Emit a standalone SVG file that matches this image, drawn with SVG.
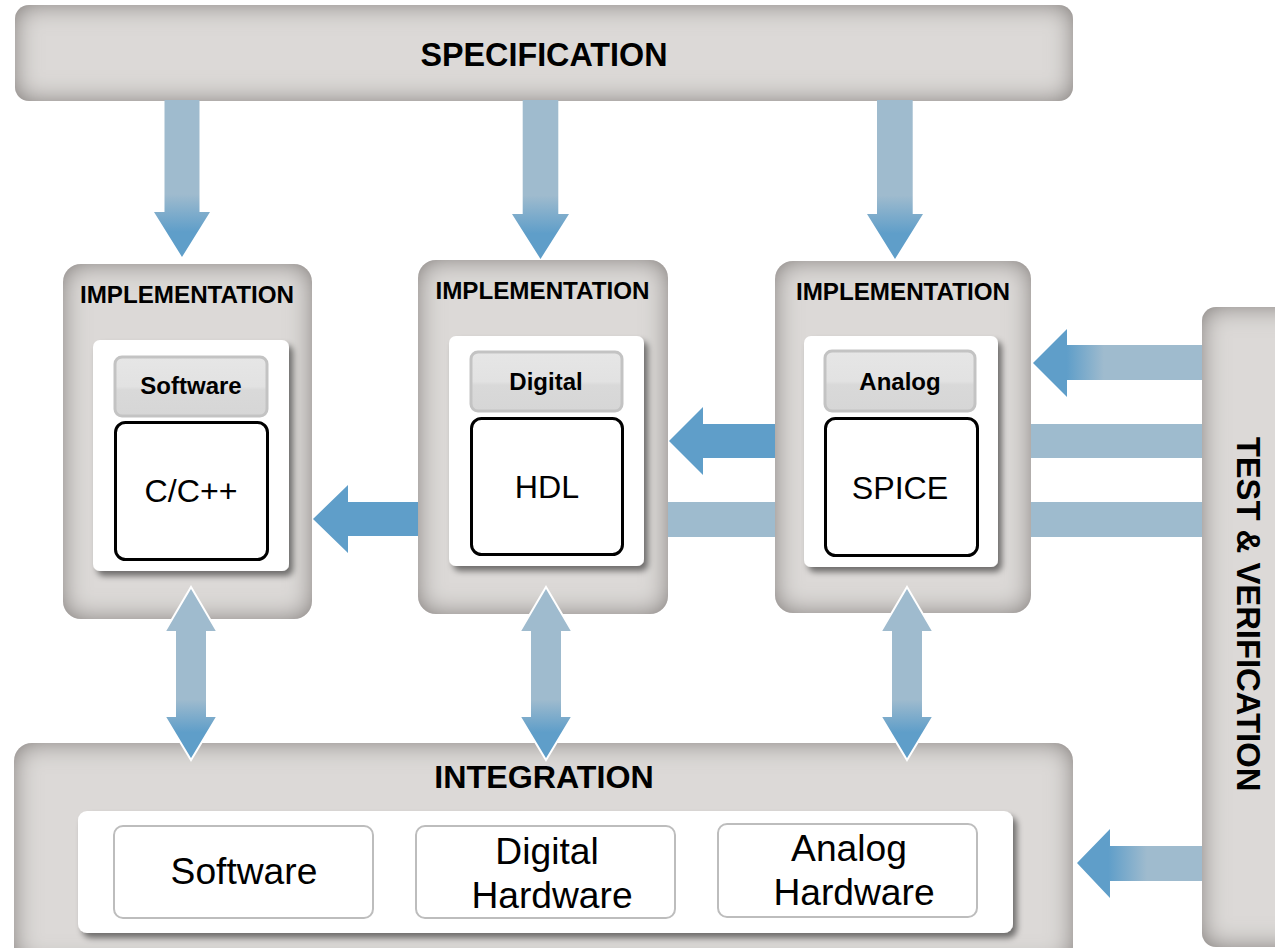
<svg xmlns="http://www.w3.org/2000/svg" width="1275" height="948" viewBox="0 0 1275 948">
  <defs>
    <style>
      .stage { fill: #dcd9d7; filter: url(#vignette); }
      .panel { fill: #ffffff; filter: url(#panelShadow); }
      .tag { fill: url(#tagFill); stroke: #c3c3c3; stroke-width: 3; }
      .code { fill: #ffffff; stroke: #000000; stroke-width: 3; }
      .slot { fill: #ffffff; stroke: #bdbdbd; stroke-width: 2; }
      .title { font-family: "Liberation Sans", Arial, sans-serif; font-weight: bold; fill: #000; text-anchor: middle; }
      .label { font-family: "Liberation Sans", Arial, sans-serif; fill: #000; text-anchor: middle; }
      .flow-solid { fill: #5f9ec9; }
      .flow-light { fill: #9ebbce; }
      .flow-down { fill: url(#gradDown); }
      .flow-both { fill: url(#gradBoth); stroke: #ffffff; stroke-width: 2; stroke-linejoin: miter; }
    </style>

    <!-- darkened rim for the grey stage boxes -->
    <filter id="vignette" x="-50%" y="-50%" width="200%" height="200%">
      <feFlood flood-color="#6f6966" result="tone"/>
      <feComposite in="tone" in2="SourceAlpha" operator="out" result="outside"/>
      <feGaussianBlur in="outside" stdDeviation="13" result="soft"/>
      <feComposite in="soft" in2="SourceAlpha" operator="in" result="rim"/>
      <feMerge>
        <feMergeNode in="SourceGraphic"/>
        <feMergeNode in="rim"/>
      </feMerge>
    </filter>

    <!-- soft shadow under the white panels -->
    <filter id="panelShadow" x="-10%" y="-10%" width="130%" height="130%">
      <feGaussianBlur in="SourceAlpha" stdDeviation="3"/>
      <feOffset dx="4" dy="5"/>
      <feComponentTransfer>
        <feFuncA type="linear" slope="0.5"/>
      </feComponentTransfer>
      <feMerge>
        <feMergeNode/>
        <feMergeNode in="SourceGraphic"/>
      </feMerge>
    </filter>

    <linearGradient id="tagFill" x1="0" y1="0" x2="0" y2="1">
      <stop offset="0" stop-color="#e6e6e6"/>
      <stop offset="0.5" stop-color="#e2e2e2"/>
      <stop offset="0.56" stop-color="#d9d9d9"/>
      <stop offset="1" stop-color="#d6d6d6"/>
    </linearGradient>

    <linearGradient id="gradDown" x1="0" y1="0" x2="0" y2="1">
      <stop offset="0" stop-color="#9fbbce"/>
      <stop offset="0.6" stop-color="#9fbbce"/>
      <stop offset="0.84" stop-color="#5f9ec9"/>
      <stop offset="1" stop-color="#5f9ec9"/>
    </linearGradient>

    <linearGradient id="gradBoth" x1="0" y1="0" x2="0" y2="1">
      <stop offset="0" stop-color="#9fbbce"/>
      <stop offset="0.65" stop-color="#9fbbce"/>
      <stop offset="0.84" stop-color="#5f9ec9"/>
      <stop offset="1" stop-color="#5f9ec9"/>
    </linearGradient>

    <linearGradient id="gradLeftTop" x1="0" y1="0" x2="1" y2="0">
      <stop offset="0" stop-color="#5f9ec9"/>
      <stop offset="0.2" stop-color="#5f9ec9"/>
      <stop offset="0.42" stop-color="#9fbbce"/>
      <stop offset="1" stop-color="#9fbbce"/>
    </linearGradient>

    <linearGradient id="gradLeftLow" x1="0" y1="0" x2="1" y2="0">
      <stop offset="0" stop-color="#5f9ec9"/>
      <stop offset="0.25" stop-color="#5f9ec9"/>
      <stop offset="0.56" stop-color="#9fbbce"/>
      <stop offset="1" stop-color="#9fbbce"/>
    </linearGradient>
  </defs>

  <rect width="1275" height="948" fill="#ffffff"/>

  <!-- SPECIFICATION -->
  <g id="specification">
    <rect class="stage" x="15" y="5" width="1058" height="96" rx="14"/>
    <text class="title" x="544" y="66" font-size="32.3">SPECIFICATION</text>
  </g>

  <!-- software implementation -->
  <g id="impl-software">
    <rect class="stage" x="63" y="264" width="249" height="355" rx="18"/>
    <text class="title" x="187" y="303" font-size="24.2">IMPLEMENTATION</text>
    <rect class="panel" x="93" y="340" width="196" height="231" rx="7"/>
    <rect class="tag" x="115" y="357" width="152" height="59" rx="7"/>
    <text class="title" x="191" y="394" font-size="24">Software</text>
    <rect class="code" x="115.5" y="422.5" width="152" height="137" rx="10"/>
    <text class="label" x="191" y="502" font-size="32.2">C/C++</text>
  </g>

  <!-- digital implementation -->
  <g id="impl-digital">
    <rect class="stage" x="418" y="260" width="250" height="354" rx="18"/>
    <text class="title" x="542.5" y="299" font-size="24.2">IMPLEMENTATION</text>
    <rect class="panel" x="449" y="336" width="195" height="230" rx="7"/>
    <rect class="tag" x="471" y="352" width="151" height="59" rx="7"/>
    <text class="title" x="546" y="390" font-size="24">Digital</text>
    <rect class="code" x="471.5" y="418.5" width="151" height="136" rx="10"/>
    <text class="label" x="547" y="498" font-size="32.2">HDL</text>
  </g>

  <!-- analog implementation -->
  <g id="impl-analog">
    <rect class="stage" x="775" y="261" width="256" height="352" rx="18"/>
    <text class="title" x="903" y="300" font-size="24.2">IMPLEMENTATION</text>
    <rect class="panel" x="804" y="336" width="194" height="231" rx="7"/>
    <rect class="tag" x="825" y="351" width="150" height="60" rx="7"/>
    <text class="title" x="900" y="390" font-size="24">Analog</text>
    <rect class="code" x="825.5" y="418.5" width="152" height="137" rx="10"/>
    <text class="label" x="900" y="499" font-size="32.2">SPICE</text>
  </g>

  <!-- INTEGRATION -->
  <g id="integration">
    <rect class="stage" x="14" y="743" width="1059" height="222" rx="18"/>
    <text class="title" x="544" y="788" font-size="32.2">INTEGRATION</text>
    <rect class="panel" x="78" y="811" width="935" height="122" rx="9"/>
    <rect class="slot" x="114" y="826" width="259" height="92" rx="9"/>
    <text class="label" x="244" y="884" font-size="37.2">Software</text>
    <rect class="slot" x="416" y="826" width="259" height="92" rx="9"/>
    <text class="label" x="547" y="864" font-size="37.2">Digital</text>
    <text class="label" x="552" y="908" font-size="37.2">Hardware</text>
    <rect class="slot" x="718" y="824" width="259" height="93" rx="9"/>
    <text class="label" x="849" y="861" font-size="37.2">Analog</text>
    <text class="label" x="854" y="905" font-size="37.2">Hardware</text>
  </g>

  <!-- TEST & VERIFICATION -->
  <g id="test-verification">
    <rect class="stage" x="1202" y="307" width="110" height="640" rx="14"/>
    <text class="title" font-size="32.8" transform="translate(1237 614) rotate(90)">TEST &amp; VERIFICATION</text>
  </g>

  <!-- connectors -->
  <g id="connectors">
    <!-- specification down to each implementation -->
    <polygon class="flow-down" points="164.5,100 199.5,100 199.5,212 210,212 182,257 154,212 164.5,212"/>
    <polygon class="flow-down" points="522.7,100 558.3,100 558.3,214 569,214 540.5,259 512,214 522.7,214"/>
    <polygon class="flow-down" points="877,100 912.7,100 912.7,214 923,214 895,259 867,214 877,214"/>

    <!-- hand-over between implementations -->
    <polygon class="flow-solid" points="313,519 348,485 348,502 418,502 418,536 348,536 348,553"/>
    <polygon class="flow-solid" points="669,441 703,407 703,424 775,424 775,458 703,458 703,475"/>
    <rect class="flow-light" x="668" y="502" width="107" height="35"/>

    <!-- test & verification links -->
    <polygon fill="url(#gradLeftTop)" points="1033,363 1067,329 1067,345 1202,345 1202,380 1067,380 1067,397"/>
    <rect class="flow-light" x="1031" y="424" width="171" height="34"/>
    <rect class="flow-light" x="1031" y="502" width="171" height="35"/>
    <polygon fill="url(#gradLeftLow)" points="1077,863 1110,829 1110,846 1202,846 1202,881 1110,881 1110,898"/>

    <!-- implementation to integration, both ways -->
    <polygon class="flow-both" points="191,587 217.5,632 207,632 207,716 217.5,716 191,760 164.5,716 175,716 175,632 164.5,632"/>
    <polygon class="flow-both" points="546,587 572.5,632 562,632 562,716 572.5,716 546,760 519.5,716 530,716 530,632 519.5,632"/>
    <polygon class="flow-both" points="907,587 933.5,632 923,632 923,716 933.5,716 907,760 880.5,716 891,716 891,632 880.5,632"/>
  </g>
</svg>
